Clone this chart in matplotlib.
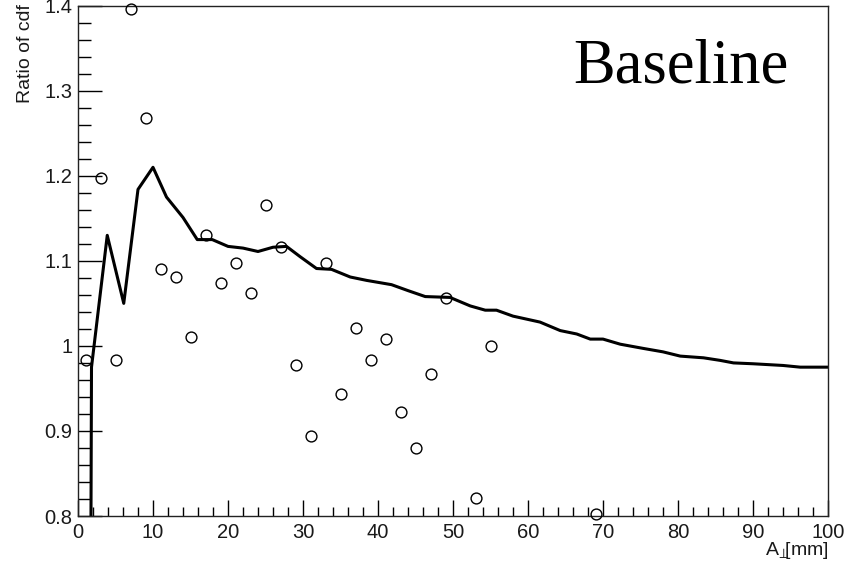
import matplotlib
matplotlib.use("Agg")
import matplotlib.pyplot as plt
from matplotlib.ticker import MultipleLocator

plt.rcParams['font.family'] = ['Liberation Sans', 'DejaVu Sans']
plt.rcParams['mathtext.fontset'] = 'custom'
plt.rcParams['mathtext.rm'] = 'Liberation Sans'

## ratio points (open circles)
point_x = [1, 3, 5, 7, 9, 11, 13, 15, 17, 19, 21, 23, 25, 27, 29, 31, 33, 35,
           37, 39, 41, 43, 45, 47, 49, 53, 55, 69]
point_y = [0.983, 1.197, 0.984, 1.396, 1.268, 1.091, 1.081, 1.011, 1.130, 1.074,
           1.098, 1.062, 1.166, 1.116, 0.977, 0.894, 1.097, 0.944, 1.021, 0.984,
           1.008, 0.922, 0.880, 0.967, 1.056, 0.821, 1.000, 0.802]

## cumulative ratio curve
curve_x = [1.65, 1.8, 3.9, 6.1, 8.0, 10.0, 11.8, 14.0, 15.9, 17.9, 20.0, 22.0,
           24.0, 26.0, 27.8, 29.6, 31.8, 33.8, 36.3, 38.5, 41.8, 44.0, 46.3, 49.6,
           52.3, 54.3, 55.8, 58.0, 61.6, 64.3, 66.5, 68.3, 70.0, 72.3, 75.4, 78.0,
           80.3, 83.4, 85.6, 87.4, 90.0, 94.0, 96.3, 100.0]
curve_y = [0.6, 0.975, 1.130, 1.050, 1.184, 1.210, 1.175, 1.151, 1.125, 1.125,
           1.117, 1.115, 1.111, 1.116, 1.117, 1.105, 1.091, 1.090, 1.081, 1.077,
           1.072, 1.065, 1.058, 1.057, 1.047, 1.042, 1.042, 1.035, 1.028, 1.018,
           1.014, 1.008, 1.008, 1.002, 0.997, 0.993, 0.988, 0.986, 0.983, 0.980,
           0.979, 0.977, 0.975, 0.975]

fig = plt.figure(figsize=(8.58, 5.66), dpi=100)
ax = fig.add_axes([78 / 858, 1 - 516 / 566, 750 / 858, (516 - 5.7) / 566])

ax.plot(curve_x, curve_y, color='black', linewidth=2.2, zorder=2)
ax.plot(point_x, point_y, linestyle='none', marker='o', markersize=7.8,
        markerfacecolor='none', markeredgecolor='black', markeredgewidth=1.0,
        clip_on=False, zorder=3)

ax.set_xlim(0, 100)
ax.set_ylim(0.8, 1.4)

ax.xaxis.set_major_locator(MultipleLocator(10))
ax.xaxis.set_minor_locator(MultipleLocator(2))
ax.yaxis.set_minor_locator(MultipleLocator(0.02))
ax.set_yticks([0.8, 0.9, 1.0, 1.1, 1.2, 1.3, 1.4])
ax.set_yticklabels(['0.8', '0.9', '1', '1.1', '1.2', '1.3', '1.4'])

ax.tick_params(axis='x', which='major', direction='in', length=11.5, width=1.0,
               labelsize=14.5, pad=5, top=False, labelcolor='#1a1a1a')
ax.tick_params(axis='x', which='minor', direction='in', length=6.5, width=1.0, top=False)
ax.tick_params(axis='y', which='major', direction='in', length=17, width=1.0,
               labelsize=14.5, pad=4, right=False, labelcolor='#1a1a1a')
ax.tick_params(axis='y', which='minor', direction='in', length=9.5, width=1.0, right=False)

for side in ['left', 'bottom', 'top', 'right']:
    ax.spines[side].set_linewidth(1.0)
    ax.spines[side].set_color('#222222')

fig.text(34 / 858, 1 - 4 / 566, 'Ratio of cdf', rotation=90, ha='right', va='top',
         fontsize=14, color='#1a1a1a')
fig.text(829 / 858, 1 - 555 / 566, r'A$_{\!\perp}\!\!$[mm]', ha='right', va='baseline',
         fontsize=14, color='#1a1a1a')
ax.text(573 / 858, 1 - 83 / 566, 'Baseline', transform=fig.transFigure,
        family='Liberation Serif', fontsize=45, ha='left', va='baseline')

fig.savefig('out.png', dpi=100)
